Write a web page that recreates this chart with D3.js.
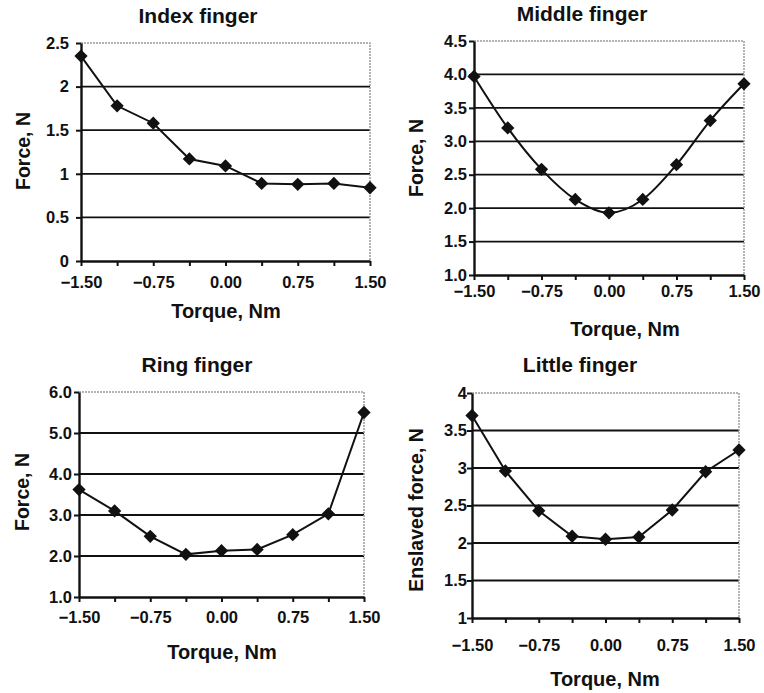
<!DOCTYPE html>
<html>
<head>
<meta charset="utf-8">
<script src="https://cdn.jsdelivr.net/npm/d3@7"></script>
<style>
  body { margin: 0; background: #fff; }
  text { font-family: "Liberation Sans", Arial, sans-serif; font-weight: bold; fill: #111; }
</style>
</head>
<body>
<div id="chart"></div>
<script>
var torque = [-1.5, -1.125, -0.75, -0.375, 0, 0.375, 0.75, 1.125, 1.5];
var torqueLabels = [-1.5, -0.75, 0, 0.75, 1.5];

var indexForce  = [2.35, 1.78, 1.58, 1.17, 1.09, 0.89, 0.88, 0.89, 0.84];
var middleForce = [3.97, 3.20, 2.58, 2.13, 1.93, 2.13, 2.65, 3.31, 3.86];
var ringForce   = [3.62, 3.10, 2.48, 2.04, 2.13, 2.16, 2.52, 3.03, 5.50];
var littleForce = [3.70, 2.96, 2.43, 2.09, 2.05, 2.08, 2.44, 2.95, 3.24];

var indexTicks  = [0, 0.5, 1, 1.5, 2, 2.5];
var middleTicks = [1, 1.5, 2, 2.5, 3, 3.5, 4, 4.5];
var ringTicks   = [1, 2, 3, 4, 5, 6];
var littleTicks = [1, 1.5, 2, 2.5, 3, 3.5, 4];

var titles = ["Index finger", "Middle finger", "Ring finger", "Little finger"];
var yTitles = ["Force, N", "Force, N", "Force, N", "Enslaved force, N"];

// layout of each panel (pixels)
var panels = [
  { force: indexForce, ticks: indexTicks, fmt: "~g", smooth: false,
    left: 81, right: 370, top: 43, bottom: 261,
    title: [198, 23], xTitle: [226, 318], yTitle: [23, 151], xPad: 10, yPad: 7 },
  { force: middleForce, ticks: middleTicks, fmt: ".1f", smooth: true,
    left: 474, right: 744, top: 41, bottom: 275,
    title: [582, 21], xTitle: [625, 336], yTitle: [416, 158], xPad: 5, yPad: 2 },
  { force: ringForce, ticks: ringTicks, fmt: ".1f", smooth: false,
    left: 79, right: 364, top: 392, bottom: 597,
    title: [197, 372], xTitle: [222, 659], yTitle: [22, 492], xPad: 9, yPad: 2 },
  { force: littleForce, ticks: littleTicks, fmt: "~g", smooth: false,
    left: 472, right: 739, top: 393, bottom: 618,
    title: [580, 372], xTitle: [605, 686], yTitle: [416, 510], xPad: 16, yPad: 0 }
];

var svg = d3.select("#chart")
  .append("svg")
  .attr("width", 764)
  .attr("height", 693);

panels.forEach(function(p, i) {
  var x = d3.scaleLinear()
    .domain([torque[0], torque[torque.length - 1]])
    .range([p.left, p.right]);

  var y = d3.scaleLinear()
    .domain([p.ticks[0], p.ticks[p.ticks.length - 1]])
    .range([p.bottom, p.top]);

  var g = svg.append("g");

  // gridlines (skip bottom = axis, top = border)
  g.selectAll(".grid")
    .data(p.ticks.slice(1, -1))
    .enter()
    .append("line")
    .attr("x1", p.left)
    .attr("x2", p.right)
    .attr("y1", function(d) { return y(d); })
    .attr("y2", function(d) { return y(d); })
    .attr("stroke", "#111")
    .attr("stroke-width", 1.8);

  // gray dotted border top + right
  g.append("path")
    .attr("d", "M" + p.left + "," + p.top + "H" + p.right + "V" + p.bottom)
    .attr("fill", "none")
    .attr("stroke", "#9a9a9a")
    .attr("stroke-width", 1.5)
    .attr("stroke-dasharray", "2,1");

  // Add X axis
  var xAxis = g.append("g")
    .attr("transform", "translate(0," + p.bottom + ")")
    .call(d3.axisBottom(x)
      .tickValues(torque)
      .tickSize(5)
      .tickSizeOuter(0)
      .tickPadding(p.xPad)
      .tickFormat(function(d) { return torqueLabels.indexOf(d) >= 0 ? d3.format(".2f")(d) : ""; }));

  // Add Y axis
  var yAxis = g.append("g")
    .attr("transform", "translate(" + p.left + ",0)")
    .call(d3.axisLeft(y)
      .tickValues(p.ticks)
      .tickSize(5)
      .tickSizeOuter(0)
      .tickPadding(p.yPad)
      .tickFormat(d3.format(p.fmt)));

  [xAxis, yAxis].forEach(function(a) {
    a.select(".domain").attr("stroke", "#111").attr("stroke-width", 2.4);
    a.selectAll(".tick line").attr("stroke", "#111").attr("stroke-width", 2);
    a.selectAll(".tick text").style("font-size", "16.5px").attr("fill", "#111");
  });

  // Add Path
  g.append("path")
    .datum(p.force)
    .attr("fill", "none")
    .attr("stroke", "#111")
    .attr("stroke-width", 2)
    .attr("d", d3.line()
      .curve(p.smooth ? d3.curveCatmullRom.alpha(0) : d3.curveLinear)
      .x(function(d, j) { return x(torque[j]); })
      .y(function(d) { return y(d); })
    );

  // diamonds
  g.selectAll(".pt")
    .data(p.force)
    .enter()
    .append("path")
    .attr("d", d3.symbol().type(d3.symbolSquare).size(88))
    .attr("transform", function(d, j) { return "translate(" + x(torque[j]) + "," + y(d) + ") rotate(45)"; })
    .attr("fill", "#111");

  // titles
  g.append("text")
    .attr("x", p.title[0])
    .attr("y", p.title[1])
    .attr("text-anchor", "middle")
    .style("font-size", "21px")
    .text(titles[i]);

  g.append("text")
    .attr("x", p.xTitle[0])
    .attr("y", p.xTitle[1])
    .attr("text-anchor", "middle")
    .style("font-size", "20px")
    .text("Torque, Nm");

  g.append("text")
    .attr("transform", "translate(" + p.yTitle[0] + "," + p.yTitle[1] + ") rotate(-90)")
    .attr("text-anchor", "middle")
    .attr("dy", "0.36em")
    .style("font-size", "19.5px")
    .text(yTitles[i]);
});
</script>
</body>
</html>
